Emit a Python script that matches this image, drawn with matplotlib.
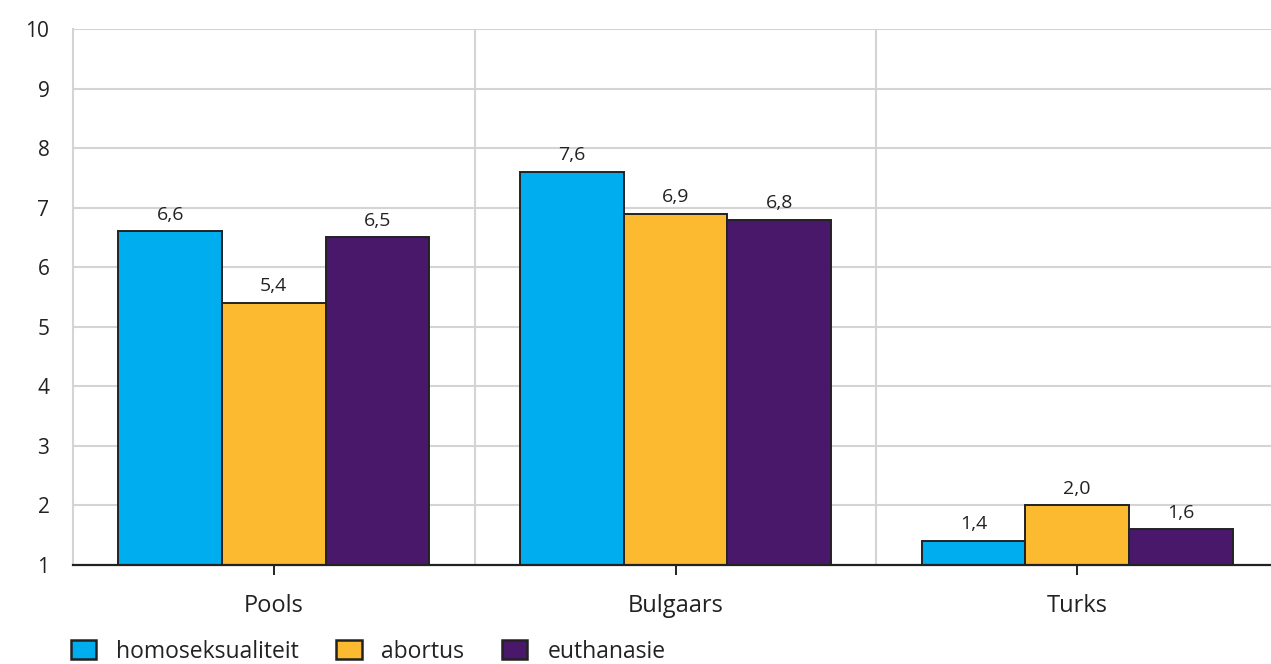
import matplotlib
matplotlib.use("Agg")
import matplotlib.pyplot as plt
import numpy as np

# data
categories = ["Pools", "Bulgaars", "Turks"]
series_names = ["homoseksualiteit", "abortus", "euthanasie"]
homoseksualiteit = [6.6, 7.6, 1.4]
abortus = [5.4, 6.9, 2.0]
euthanasie = [6.5, 6.8, 1.6]
y_ticks = [1, 2, 3, 4, 5, 6, 7, 8, 9, 10]

colors = ["#00aeef", "#fbba30", "#4a186a"]
baseline = 1

plt.rcParams['font.family'] = ['Open Sans', 'DejaVu Sans']

fig = plt.figure(figsize=(12.71, 6.64), dpi=100)
ax = fig.add_axes([73 / 1271, (664 - 565) / 664, 1205 / 1271, 536 / 664])

x = np.arange(len(categories))
width = 0.258
for i, (name, vals) in enumerate(zip(series_names, [homoseksualiteit, abortus, euthanasie])):
    pos = x + (i - 1) * width
    heights = [v - baseline for v in vals]
    ax.bar(pos, heights, width, bottom=baseline, color=colors[i],
           edgecolor="#222222", linewidth=1.4, label=name, zorder=3)
    for p, v in zip(pos, vals):
        ax.text(p, v + 0.13, f"{v:.1f}".replace(".", ","), ha="center", va="bottom",
                fontsize=14, color="#222222")

ax.set_xlim(-0.5, 2.5)
ax.set_ylim(1, 10)
ax.set_yticks(y_ticks)
ax.set_yticklabels([str(t) for t in y_ticks], fontsize=15, color="#222222")
ax.set_xticks(x)
ax.set_xticklabels(categories, fontsize=17, color="#222222")
ax.tick_params(axis="y", length=0, pad=17)
ax.tick_params(axis="x", length=7, width=1.4, color="#222222", pad=14)

# gridlines
for t in y_ticks[1:]:
    ax.axhline(t, color="#d4d4d4", linewidth=1.5, zorder=1)
for b in [0.5, 1.5]:
    ax.axvline(b, color="#d4d4d4", linewidth=1.5, zorder=1)

for s in ["top", "right"]:
    ax.spines[s].set_visible(False)
ax.spines["left"].set_color("#d4d4d4")
ax.spines["left"].set_linewidth(1.5)
ax.spines["bottom"].set_color("#222222")
ax.spines["bottom"].set_linewidth(1.6)
ax.spines["bottom"].set_zorder(4)

leg = ax.legend(loc="upper left", bbox_to_anchor=(-0.002, -0.139), ncol=3, frameon=False,
                fontsize=16.5, handlelength=1.1, handleheight=0.92, handletextpad=0.87,
                columnspacing=1.65, borderaxespad=0, borderpad=0)
for txt in leg.get_texts():
    txt.set_color("#222222")
for h in leg.legend_handles:
    h.set_linewidth(1.8)

fig.savefig("out.png", dpi=100)
